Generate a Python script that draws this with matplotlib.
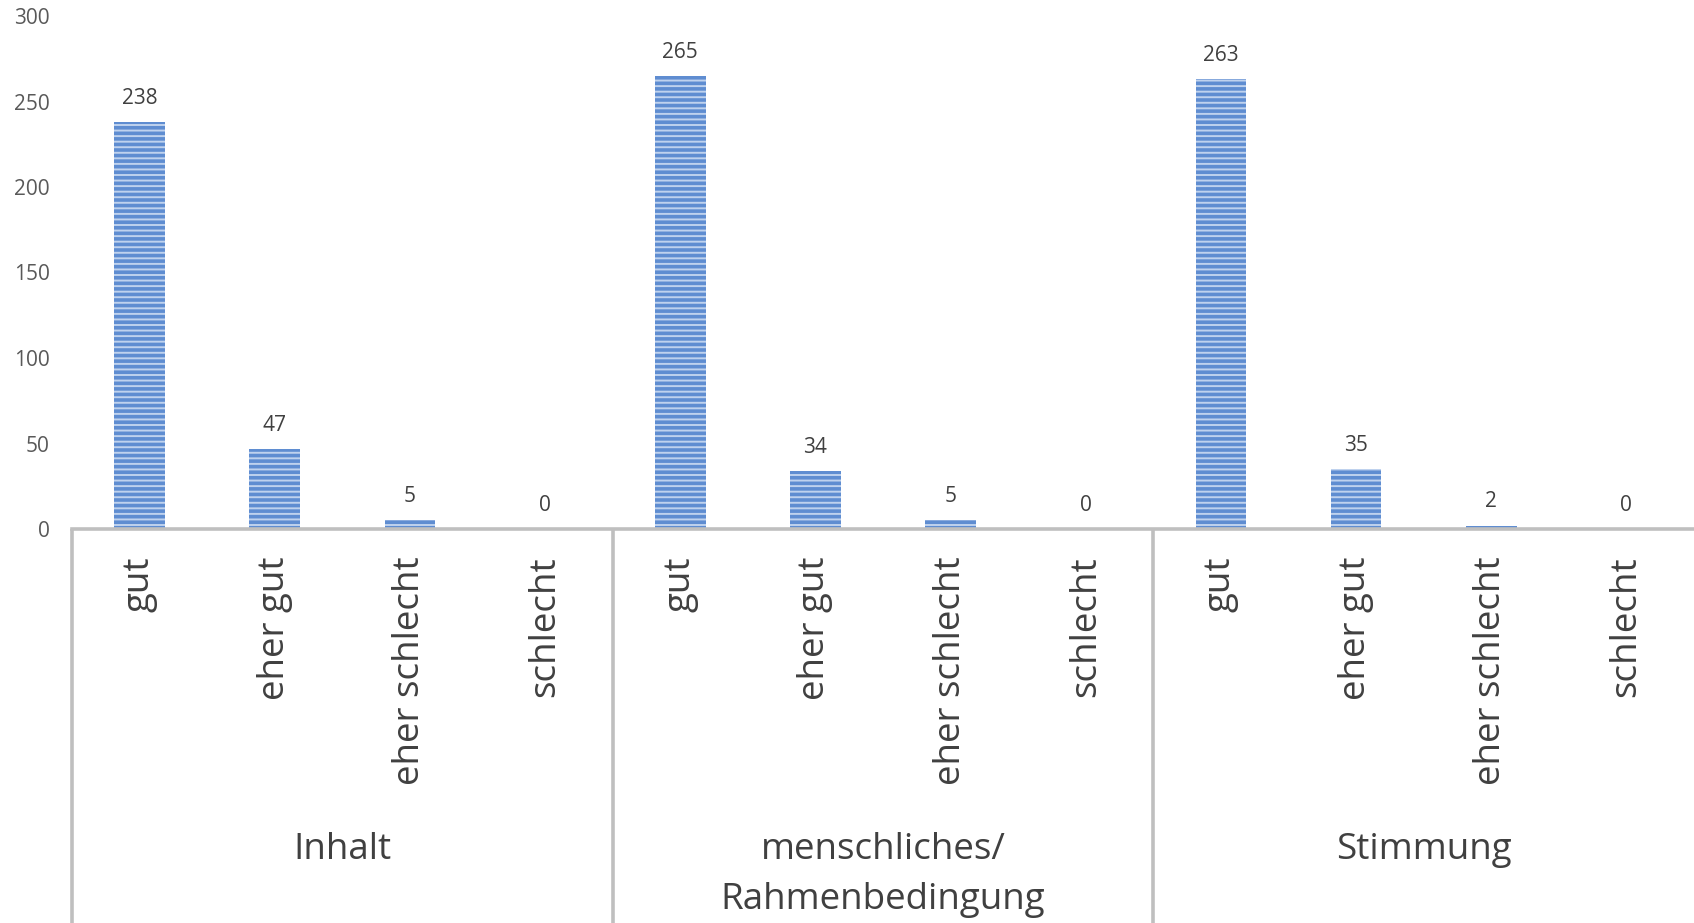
import matplotlib.pyplot as plt
import numpy as np

# Daten
groups = ['Inhalt', 'menschliches/\nRahmenbedingung', 'Stimmung']
answers = ['gut', 'eher gut', 'eher schlecht', 'schlecht']
values_inhalt = [238, 47, 5, 0]
values_mensch = [265, 34, 5, 0]
values_stimmung = [263, 35, 2, 0]

values = values_inhalt + values_mensch + values_stimmung
labels = answers * len(groups)

plt.rcParams['font.family'] = ['Open Sans', 'DejaVu Sans']
plt.rcParams['hatch.linewidth'] = 1.4

W, H = 1694, 923
fig = plt.figure(figsize=(W / 100, H / 100), dpi=100)
ax_left, ax_bottom, ax_top = 72, 529, 16
ax = fig.add_axes([ax_left / W, (H - ax_bottom) / H, 1 - ax_left / W, (ax_bottom - ax_top) / H])

x = np.arange(len(values))
# Streifenmuster: Schraffur nimmt die Kantenfarbe
bars = ax.bar(x, values, width=0.375, facecolor='#5F8DD1', edgecolor='#BFD2EE',
              linewidth=0, hatch='---')

for xi, v in zip(x, values):
    ax.annotate(str(v), (xi, v), xytext=(0, 17), textcoords='offset points',
                ha='center', va='center', fontsize=15, color='#404040')

ax.set_xlim(-0.5, len(values) - 0.5)
ax.set_ylim(0, 300)
ax.set_yticks(range(0, 301, 50))
ax.tick_params(axis='y', length=0, pad=16, labelsize=15, labelcolor='#595959')

ax.set_xticks(x)
ax.set_xticklabels(labels, rotation=90, fontsize=26.5, color='#404040')
ax.tick_params(axis='x', length=0, pad=20)

for s in ['left', 'top', 'right']:
    ax.spines[s].set_visible(False)
ax.spines['bottom'].set_color('#BFBFBF')
ax.spines['bottom'].set_linewidth(2.6)

# Trennlinien der Gruppen
down = -(H - ax_bottom) / (ax_bottom - ax_top)
trans = ax.get_xaxis_transform()
for gx in [-0.5, 3.5, 7.5]:
    ax.plot([gx, gx], [0, down], transform=trans, clip_on=False,
            color='#BFBFBF', linewidth=2.6, solid_capstyle='butt')

# Gruppenbeschriftungen
label_top = (H - 832) / H
for i, g in enumerate(groups):
    gx_disp = ax.transData.transform((i * 4 + 1.5, 0))[0] / W
    fig.text(gx_disp, label_top, g, ha='center', va='top', fontsize=26.5,
             color='#404040', linespacing=1.5)

fig.savefig('out.png', dpi=100)
